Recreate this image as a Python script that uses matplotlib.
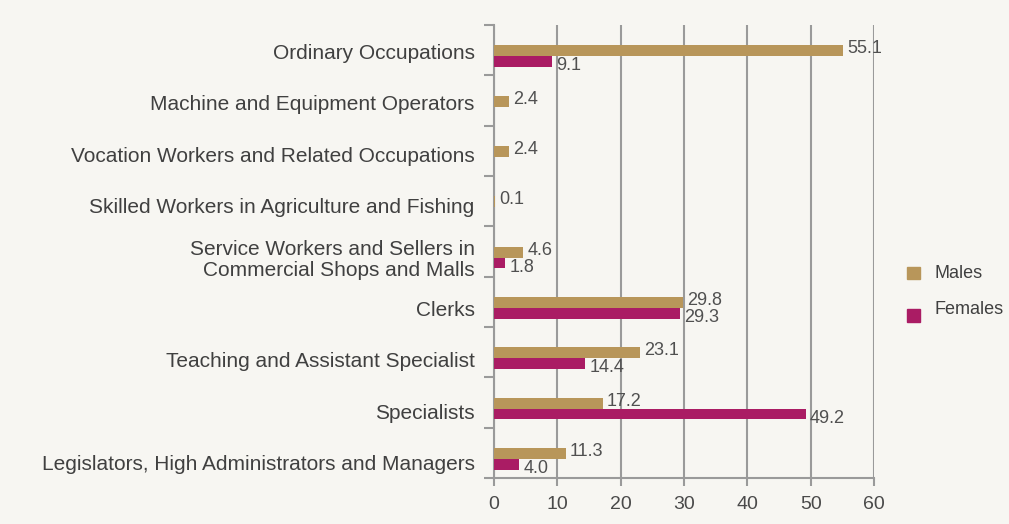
import numpy as np
import matplotlib.pyplot as plt
import matplotlib.transforms as mtransforms
from matplotlib.patches import Rectangle

plt.rcParams['font.family'] = ['Liberation Sans', 'DejaVu Sans']

# categories listed bottom -> top
categories = [
    "Legislators, High Administrators and Managers",
    "Specialists",
    "Teaching and Assistant Specialist",
    "Clerks",
    "Service Workers and Sellers in\nCommercial Shops and Malls",
    "Skilled Workers in Agriculture and Fishing",
    "Vocation Workers and Related Occupations",
    "Machine and Equipment Operators",
    "Ordinary Occupations",
]
males = [11.3, 17.2, 23.1, 29.8, 4.6, 0.1, 2.4, 2.4, 55.1]
females = [4.0, 49.2, 14.4, 29.3, 1.8, None, None, None, 9.1]
x_ticks = [0, 10, 20, 30, 40, 50, 60]

male_color = '#B8965A'
female_color = '#AA1C64'
bg = '#F7F6F2'
grid_c = '#9A9A9A'
text_c = '#404040'

fig = plt.figure(figsize=(10.09, 5.24), dpi=100, facecolor=bg)
ax = fig.add_axes([494 / 1009, 46 / 524, 380 / 1009, 453 / 524], facecolor=bg)

idx = np.arange(len(categories))
y = idx - 0.12
h = 0.215

ax.barh(y + h / 2, males, height=h, color=male_color, zorder=3)
fem_vals = [v if v is not None else 0 for v in females]
ax.barh(y - h / 2, fem_vals, height=h, color=female_color, zorder=3)

for yi, v in zip(y, males):
    ax.annotate(f"{v:.1f}", (v, yi + h / 2), xytext=(3, 1.5), textcoords='offset points',
                va='center', ha='left', fontsize=13, color='#505050', zorder=4)
for yi, v in zip(y, females):
    if v is None:
        continue
    ax.annotate(f"{v:.1f}", (v, yi - h / 2), xytext=(3, -3), textcoords='offset points',
                va='center', ha='left', fontsize=13, color='#505050', zorder=4)

ax.set_xlim(0, 60)
ax.set_ylim(-0.5, len(categories) - 0.5)
ax.set_xticks(x_ticks)
ax.set_xticklabels([str(t) for t in x_ticks], fontsize=14, color='#4A4A4A')
shift = mtransforms.ScaledTranslation(6 / 100, 0, fig.dpi_scale_trans)
for lab in ax.get_xticklabels():
    lab.set_transform(lab.get_transform() + shift)
ax.xaxis.grid(True, color=grid_c, linewidth=1.5, zorder=0)
ax.tick_params(axis='x', length=6, width=1.5, color=grid_c, pad=7)

# category labels drift slightly relative to the bar pairs, as in the original
ax.set_yticks(idx - 0.2 + 0.0225 * idx)
ax.set_yticklabels(categories, fontsize=15, color=text_c, linespacing=1.1)
ax.tick_params(axis='y', length=0, pad=14)
ax.set_yticks(np.arange(len(categories) + 1) - 0.5, minor=True)
ax.tick_params(axis='y', which='minor', length=7, width=1.5, color=grid_c)

for s in ['top', 'right']:
    ax.spines[s].set_visible(False)
for s in ['left', 'bottom']:
    ax.spines[s].set_color(grid_c)
    ax.spines[s].set_linewidth(1.5)

# legend
fig.patches.append(Rectangle((907 / 1009, 1 - 279 / 524), 13 / 1009, 12 / 524,
                             transform=fig.transFigure, color=male_color))
fig.patches.append(Rectangle((907 / 1009, 1 - 322 / 524), 13 / 1009, 13 / 524,
                             transform=fig.transFigure, color=female_color))
fig.text(934 / 1009, 1 - 273 / 524, "Males", fontsize=13, color=text_c, va='center')
fig.text(934 / 1009, 1 - 310 / 524, "Females", fontsize=13, color=text_c, va='center')

fig.savefig('out.png', dpi=100, facecolor=bg)
